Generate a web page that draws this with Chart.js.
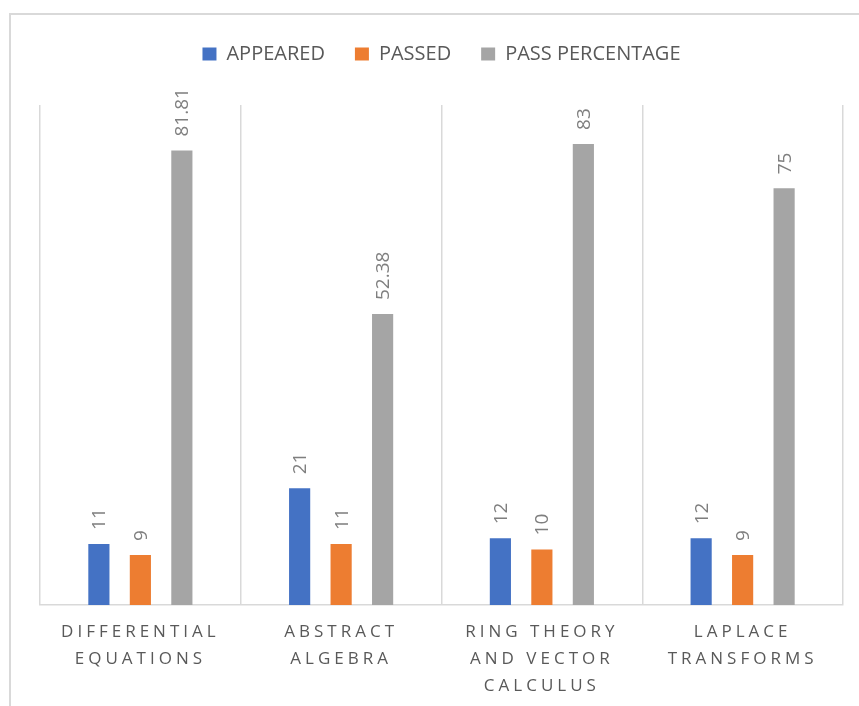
<!DOCTYPE html>
<html>
<head>
<meta charset="utf-8">
<script src="https://cdn.jsdelivr.net/npm/chart.js@4/dist/chart.umd.min.js"></script>
<style>
  html, body { margin: 0; padding: 0; background: #ffffff; }
  canvas { display: block; }
</style>
</head>
<body>
<canvas id="resultChart" width="859" height="706"></canvas>
<script>
const ctx = document.getElementById("resultChart");

// subjects (x axis, split into lines like the original)
const subjects = [
    ["DIFFERENTIAL", "EQUATIONS"],
    ["ABSTRACT", "ALGEBRA"],
    ["RING THEORY", "AND VECTOR", "CALCULUS"],
    ["LAPLACE", "TRANSFORMS"]
];

const appeared = [11, 21, 12, 12];
const passed = [9, 11, 10, 9];
const passPercentage = [81.81, 52.38, 83, 75];

const seriesNames = ["APPEARED", "PASSED", "PASS PERCENTAGE"];
const seriesColors = ["#4472C4", "#ED7D31", "#A5A5A5"];

const FONT = "'Open Sans', 'Liberation Sans', sans-serif";


// light frame around the whole chart
const framePlugin = {
    id: "frame",
    beforeDraw(chart) {
        const c = chart.ctx;
        c.save();
        c.strokeStyle = "#d9d9d9";
        c.lineWidth = 2;
        c.strokeRect(10, 14, 900, 900);
        c.restore();
    }
};

// spaced out letters on the category labels
const spacedTicksPlugin = {
    id: "spacedTicks",
    beforeDraw(chart) {
        const xs = chart.scales.x;
        if (xs._spaced) return;
        const orig = xs.drawLabels.bind(xs);
        xs.drawLabels = function(area) {
            const c = chart.ctx;
            c.save();
            c.letterSpacing = "4px";
            orig(area);
            c.restore();
        };
        xs._spaced = true;
    }
};

// legend height so the plot starts where it does in the original
const legendHeightPlugin = {
    id: "legendHeight",
    beforeInit(chart) {
        const origFit = chart.legend.fit;
        chart.legend.fit = function() {
            origFit.bind(chart.legend)();
            this.height = 91;
        };
    }
};

// vertical value labels above each bar
const valueLabelsPlugin = {
    id: "valueLabels",
    afterDatasetsDraw(chart) {
        const c = chart.ctx;
        chart.data.datasets.forEach((ds, i) => {
            const meta = chart.getDatasetMeta(i);
            meta.data.forEach((bar, j) => {
                c.save();
                c.translate(bar.x, bar.y - 14);
                c.rotate(-Math.PI / 2);
                c.font = "19px " + FONT;
                c.fillStyle = "#7f7f7f";
                c.textAlign = "left";
                c.textBaseline = "middle";
                c.fillText(String(ds.data[j]), 0, 1);
                c.restore();
            });
        });
    }
};


const values = [appeared, passed, passPercentage];

const datasets = seriesNames.map((name, i) => {
    return {
        label: name,
        data: values[i],
        backgroundColor: seriesColors[i],
        borderWidth: 0,
        categoryPercentage: 0.62,
        barPercentage: 0.51
    };
});


new Chart(ctx, {
    type: "bar",
    data: {
        labels: subjects,
        datasets: datasets
    },
    plugins: [framePlugin, spacedTicksPlugin, legendHeightPlugin, valueLabelsPlugin],
    options: {
        responsive: false,
        animation: false,
        layout: {
            padding: { top: 14, left: 40, right: 16, bottom: 0 }
        },
        plugins: {
            legend: {
                position: "top",
                labels: {
                    boxWidth: 14,
                    boxHeight: 13,
                    padding: 30,
                    color: "#595959",
                    font: { family: FONT, size: 20 }
                }
            },
            tooltip: { enabled: false }
        },
        scales: {
            x: {
                grid: {
                    display: true,
                    offset: true,
                    drawTicks: false,
                    color: "#d9d9d9",
                    lineWidth: 1.5
                },
                border: {
                    display: true,
                    color: "#d9d9d9",
                    width: 1.5
                },
                ticks: {
                    color: "#595959",
                    padding: 14,
                    maxRotation: 0,
                    autoSkip: false,
                    font: { family: FONT, size: 17, lineHeight: 1.57 }
                },
                afterFit(scale) {
                    scale.height = 101;
                }
            },
            y: {
                display: false,
                min: 0,
                max: 90
            }
        }
    }
});
</script>
</body>
</html>
